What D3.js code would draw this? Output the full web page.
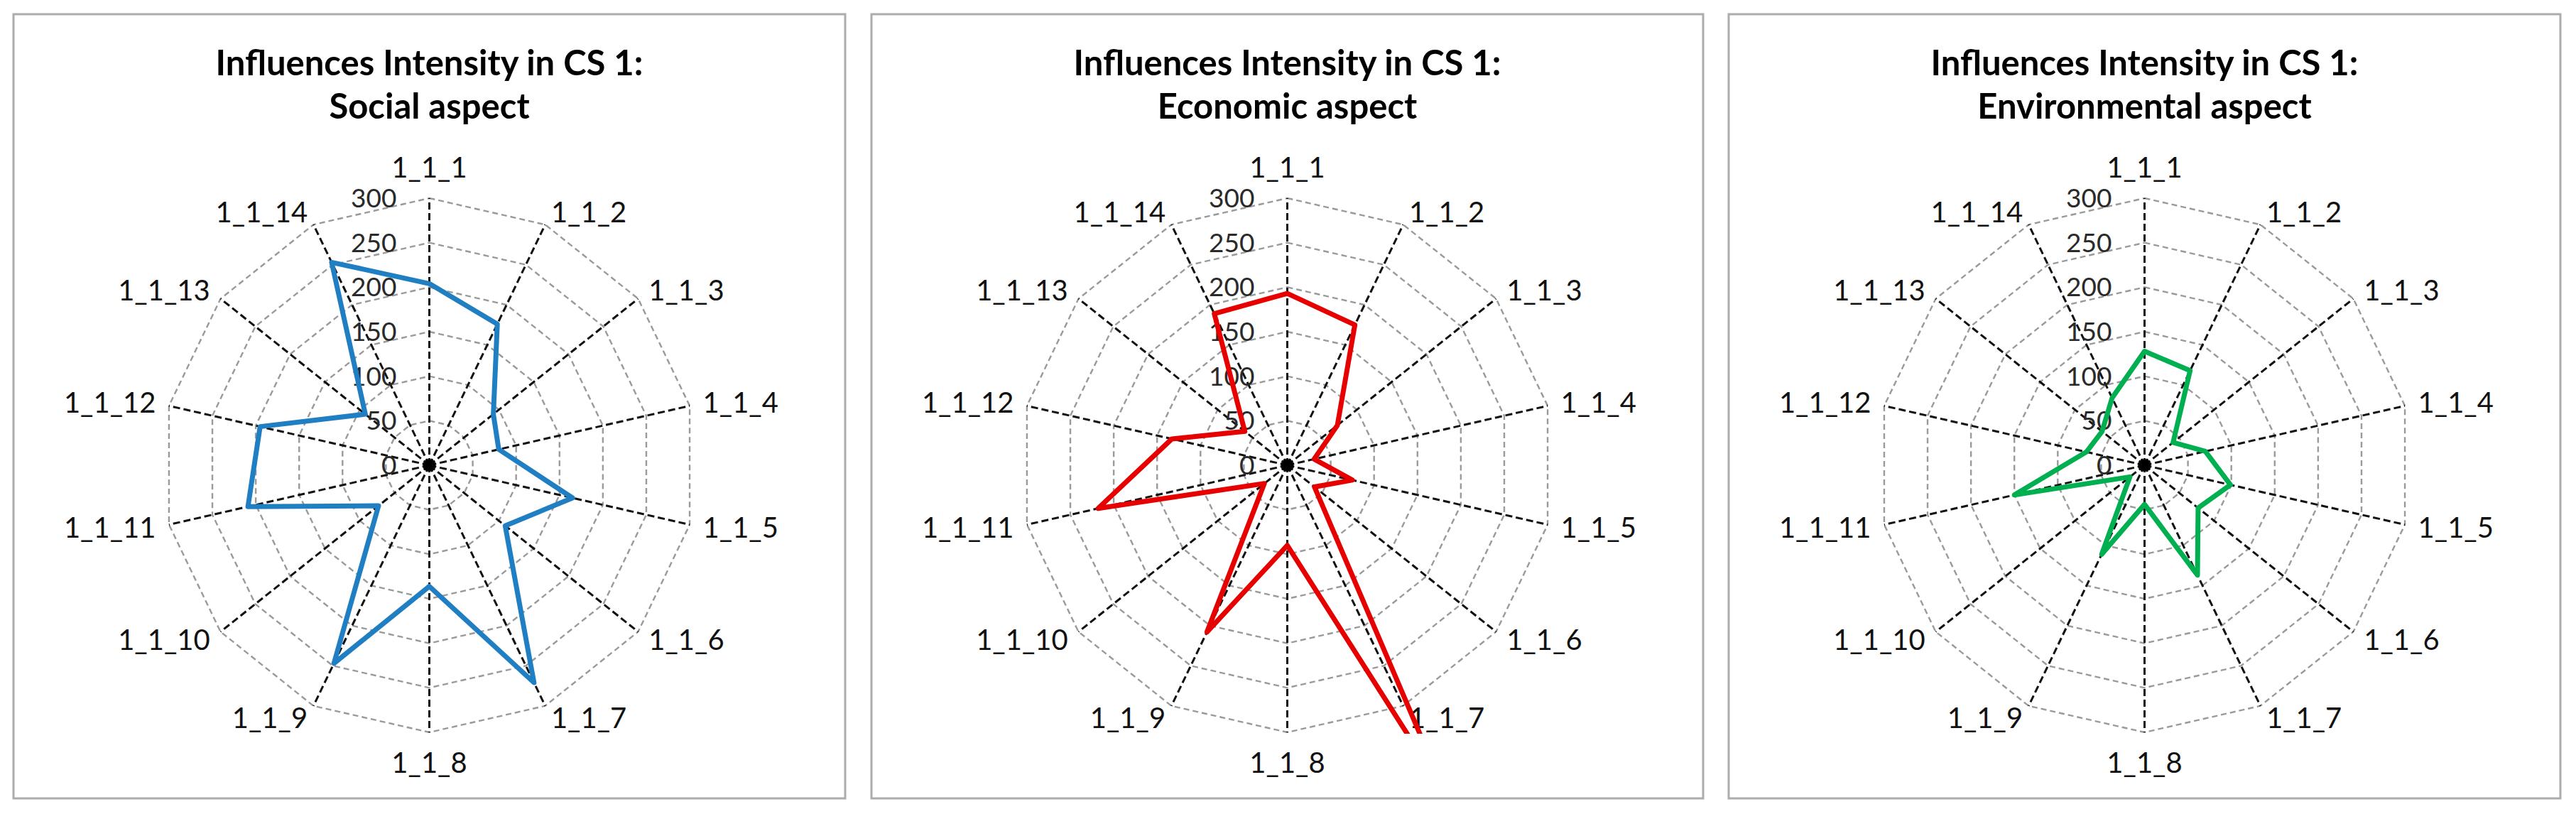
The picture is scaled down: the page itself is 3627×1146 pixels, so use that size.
<!DOCTYPE html>
<html>
<head>
<meta charset="utf-8">
<script src="https://cdn.jsdelivr.net/npm/d3@7"></script>
<style>
  body { margin: 0; background: #fff; }
  .title { font-family: Lato, "Open Sans", sans-serif; font-weight: 700; font-size: 49px; fill: #000; }
  .cat-label { font-family: Lato, "Open Sans", sans-serif; font-size: 40px; fill: #111; }
  .tick-label { font-family: Lato, "Open Sans", sans-serif; font-size: 37px; fill: #2a2a2a; }
</style>
</head>
<body>
<div id="vis"></div>
<script>
// values
const categories = ["1_1_1", "1_1_2", "1_1_3", "1_1_4", "1_1_5", "1_1_6", "1_1_7",
                    "1_1_8", "1_1_9", "1_1_10", "1_1_11", "1_1_12", "1_1_13", "1_1_14"];
const socialValues = [204, 176, 92, 80, 165, 109, 271, 136, 247, 73, 209, 195, 92, 253];
const economicValues = [193, 175, 72, 31, 75, 39, 410, 90, 208, 33, 218, 133, 61, 189];
const environmentalValues = [128, 118, 41, 70, 99, 77, 137, 44, 111, 21, 150, 67, 61, 84];
const radialTicks = [0, 50, 100, 150, 200, 250, 300];
const titleLine1 = "Influences Intensity in CS 1:";
const aspectNames = ["Social aspect", "Economic aspect", "Environmental aspect"];
const seriesColors = ["#1f7fc2", "#e60000", "#00b050"];

const width = 3627, height = 1146;
const panelW = 1171, panelH = 1104, panelTop = 20;
const panelLefts = [19, 1227, 2434];
const centerY = 655;
const outerR = 376;

const svg = d3.select("#vis")
    .append("svg")
    .attr("width", width)
    .attr("height", height);

svg.append("rect").attr("width", width).attr("height", height).attr("fill", "#fff");

const r = d3.scaleLinear().domain([0, 300]).range([0, outerR]);
const angleOf = i => i * 2 * Math.PI / categories.length;

const radar = d3.lineRadial()
    .angle((d, i) => angleOf(i))
    .radius(d => r(d))
    .curve(d3.curveLinearClosed);

[socialValues, economicValues, environmentalValues].forEach((values, p) => drawPanel(p, values));

function drawPanel(p, values) {
    const x0 = panelLefts[p];
    const cx = x0 + panelW / 2;
    const g = svg.append("g");

    // chart frame
    g.append("rect")
        .attr("x", x0).attr("y", panelTop)
        .attr("width", panelW).attr("height", panelH)
        .attr("fill", "#fff")
        .attr("stroke", "#acacac")
        .attr("stroke-width", 3);

    const title = g.append("text").attr("class", "title").attr("text-anchor", "middle");
    title.append("tspan").attr("x", cx).attr("y", 106).text(titleLine1);
    title.append("tspan").attr("x", cx).attr("y", 167).text(aspectNames[p]);

    const plot = g.append("g").attr("transform", `translate(${cx},${centerY})`);

    const clipId = "plot-clip-" + p;
    plot.append("clipPath").attr("id", clipId)
        .append("rect")
        .attr("x", -outerR - 2).attr("y", -outerR - 2)
        .attr("width", 2 * outerR + 4).attr("height", 2 * outerR + 4);

    // grey dashed rings
    plot.selectAll(".ring")
        .data(radialTicks.filter(t => t > 0))
        .join("path")
        .attr("class", "ring")
        .attr("d", t => radar(categories.map(() => t)))
        .attr("fill", "none")
        .attr("stroke", "#9a9a9a")
        .attr("stroke-width", 2.4)
        .attr("stroke-dasharray", "8,5");

    // black dashed spokes
    plot.selectAll(".spoke")
        .data(categories)
        .join("line")
        .attr("class", "spoke")
        .attr("x1", 0).attr("y1", 0)
        .attr("x2", (d, i) => r(300) * Math.sin(angleOf(i)))
        .attr("y2", (d, i) => -r(300) * Math.cos(angleOf(i)))
        .attr("stroke", "#111")
        .attr("stroke-width", 3)
        .attr("stroke-dasharray", "10,5");

    plot.append("circle").attr("r", 9).attr("fill", "#000");

    // radial tick labels
    plot.selectAll(".tick-label")
        .data(radialTicks)
        .join("text")
        .attr("class", "tick-label")
        .attr("x", -46)
        .attr("y", d => -r(d))
        .attr("dy", "0.35em")
        .attr("text-anchor", "end")
        .text(d => d);

    // category labels around the outside
    plot.selectAll(".cat-label")
        .data(categories)
        .join("text")
        .attr("class", "cat-label")
        .each(function (d, i) {
            const a = angleOf(i);
            const s = Math.sin(a), c = Math.cos(a);
            const ax = (r(300) + 19) * s;
            let ay = -(r(300) + 19) * c;
            if (Math.abs(s) < 0.01) ay -= 24 * c;
            d3.select(this)
                .attr("x", ax)
                .attr("y", ay)
                .attr("dy", "0.35em")
                .attr("text-anchor", s > 0.01 ? "start" : (s < -0.01 ? "end" : "middle"))
                .text(d);
        });

    plot.append("path")
        .datum(values)
        .attr("clip-path", `url(#${clipId})`)
        .attr("d", radar)
        .attr("fill", "none")
        .attr("stroke", seriesColors[p])
        .attr("stroke-width", 7)
        .attr("stroke-linejoin", "round");
}
</script>
</body>
</html>
